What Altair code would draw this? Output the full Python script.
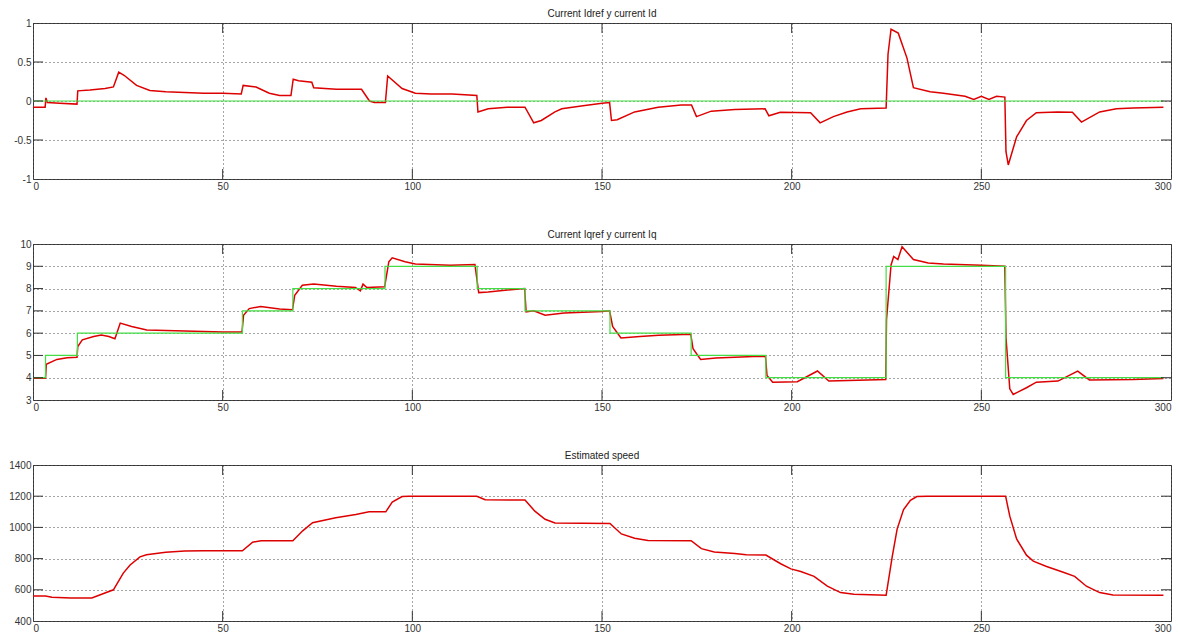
import altair as alt
import pandas as pd

# ---------------- data ----------------
# Panel 1: Id (red) and Idref (green)
id_t = [0, 3.2, 3.4, 3.8, 7, 11.6, 11.8, 15, 19, 21.2, 22.6, 24, 27.3, 30.8, 35, 40, 45, 50,
        54.9, 55.4, 58.8, 62.3, 65, 68, 68.6, 70, 73.5, 74, 80, 86.6, 88.7, 90, 92.9, 93.5,
        97.3, 100.8, 105, 110.5, 117, 117.3, 120, 125, 129.7, 132, 134, 137.6, 139.4, 145,
        150, 152, 152.5, 154, 158.6, 164.8, 170.9, 173.6, 174.9, 178.8, 185, 193, 194, 197,
        205, 207.5, 211, 214.6, 218.2, 224.9, 225.4, 226.2, 228.1, 230.4, 232.1, 236.5, 240,
        245.7, 248, 250, 252, 254, 256.2, 256.5, 257.1, 259.3, 261.9, 264.5, 270, 274, 276.4,
        281.2, 285.6, 290, 298]
id_v = [-0.08, -0.08, 0.04, -0.02, -0.03, -0.04, 0.13, 0.14, 0.16, 0.18, 0.37, 0.33, 0.2, 0.135,
        0.12, 0.11, 0.1, 0.1, 0.09, 0.2, 0.18, 0.1, 0.07, 0.07, 0.28, 0.26, 0.24, 0.17, 0.15,
        0.15, 0.0, -0.02, -0.02, 0.32, 0.16, 0.1, 0.09, 0.09, 0.07, -0.14, -0.1, -0.08, -0.08,
        -0.28, -0.25, -0.14, -0.1, -0.06, -0.03, -0.02, -0.25, -0.24, -0.14, -0.08, -0.05,
        -0.05, -0.2, -0.13, -0.11, -0.1, -0.19, -0.145, -0.15, -0.28, -0.2, -0.14, -0.1, -0.09,
        0.6, 0.92, 0.87, 0.55, 0.17, 0.12, 0.1, 0.06, 0.02, 0.06, 0.02, 0.06, 0.05, -0.65,
        -0.82, -0.46, -0.25, -0.15, -0.14, -0.145, -0.27, -0.14, -0.1, -0.09, -0.08]
idref_t = [0, 298]
idref_v = [0, 0]

# Panel 2: Iq (red) and Iqref (green, stepwise)
iq_t = [0, 3.3, 3.5, 6.3, 9, 11.6, 11.8, 13, 16, 18, 20, 21.6, 23, 26, 30, 40, 50, 55.1, 55.5,
        57, 60, 65, 68.4, 69, 71, 74, 80, 85, 86.3, 87, 88, 92.7, 93.8, 94.7, 98.1, 100.8, 110,
        116.5, 117.5, 120, 126, 129.6, 130, 132, 135, 140, 150, 152, 152.8, 155, 160, 165,
        173.4, 174, 176, 180, 190, 193.1, 193.5, 195, 201.5, 206.8, 209.8, 215, 224.8, 225,
        226.2, 226.9, 228, 229.1, 232.1, 236, 240, 250, 256.2, 256.5, 257.5, 258.4, 261.9,
        264.5, 270.2, 275.4, 278.5, 290, 298]
iq_v = [3.98, 3.98, 4.6, 4.82, 4.9, 4.92, 5.4, 5.7, 5.85, 5.92, 5.85, 5.75, 6.45, 6.3, 6.14,
        6.1, 6.05, 6.05, 6.8, 7.1, 7.2, 7.08, 7.05, 7.7, 8.15, 8.2, 8.1, 8.05, 7.9, 8.2, 8.05,
        8.08, 9.2, 9.38, 9.2, 9.1, 9.05, 9.08, 7.82, 7.85, 7.95, 8.0, 6.95, 7.0, 6.8, 6.9,
        6.97, 7.0, 6.3, 5.78, 5.85, 5.9, 5.95, 5.3, 4.82, 4.88, 4.95, 4.95, 4.1, 3.8, 3.82,
        4.3, 3.85, 3.87, 3.92, 6.6, 9.06, 9.44, 9.3, 9.88, 9.3, 9.15, 9.1, 9.05, 9.0, 5.8,
        3.5, 3.25, 3.55, 3.8, 3.85, 4.3, 3.9, 3.92, 3.97]
iqref_t = [0, 3.3, 11.7, 55.2, 68.5, 92.8, 117.1, 129.7, 152.1, 173.5, 193.2, 224.9, 256.4, 298]
iqref_v = [4, 5, 6, 7, 8, 9, 8, 7, 6, 5, 4, 9, 4, 4]

# Panel 3: estimated speed (red)
sp_t = [0, 3.3, 5, 10, 15.5, 18.1, 21.2, 23.8, 25.6, 28.2, 29.9, 35, 40, 45, 55.2, 57.9, 60.1,
        68.5, 71.1, 73.7, 79.8, 85.1, 88.6, 93, 94.7, 97.3, 99.1, 117, 119.2, 129.7, 132.3,
        135, 137.6, 152.1, 155.1, 158.6, 162.1, 173.5, 176.2, 179.6, 185, 188, 193.2, 197.1,
        199.8, 202.4, 205.9, 209.4, 212.9, 216.4, 224.9, 226.5, 227.8, 229.5, 231.3, 233,
        235.7, 256.4, 257.5, 259.3, 261.9, 263.7, 267.2, 271.6, 274.6, 277.7, 281.2, 284.7, 298]
sp_v = [560, 560, 552, 548, 548, 571, 600, 707, 759, 811, 825, 840, 848, 850, 850, 905, 915,
        915, 978, 1030, 1062, 1083, 1100, 1100, 1162, 1198, 1200, 1200, 1177, 1175, 1104,
        1052, 1028, 1025, 958, 930, 916, 915, 864, 843, 832, 825, 823, 767, 734, 717, 686,
        623, 582, 571, 565, 811, 989, 1114, 1173, 1198, 1200, 1200, 1072, 926, 822, 784, 749,
        713, 686, 623, 582, 567, 565]

titles = ["Current Idref y current Id", "Current Iqref y current Iq", "Estimated speed"]
x_ticks = [0, 50, 100, 150, 200, 250, 300]
y_ticks_1 = [-1, -0.5, 0, 0.5, 1]
y_ticks_2 = [3, 4, 5, 6, 7, 8, 9, 10]
y_ticks_3 = [400, 600, 800, 1000, 1200, 1400]

# ---------------- styling ----------------
W, H = 1138, 156
RED = "#dd0000"
GREEN = "#44dd44"
AXC = "#333333"
FONT = "Liberation Sans"


def panel(title, red_t, red_v, green_t, green_v, ydom, yticks, step=False):
    xs = alt.Scale(domain=[0, 300], nice=False, zero=False)
    ys = alt.Scale(domain=ydom, nice=False, zero=False)
    xax = alt.Axis(values=x_ticks, tickCount=len(x_ticks), title=None, grid=True,
                   labelFlush=True, labelOverlap=False, labelExpr="toString(datum.value)")
    yax = alt.Axis(values=yticks, tickCount=len(yticks), title=None, grid=True,
                   labelFlush=False, labelOverlap=False, labelExpr="toString(datum.value)")
    red_df = pd.DataFrame({"t": red_t, "v": red_v})
    base = alt.Chart(red_df).mark_line(color=RED, strokeWidth=1.5, clip=True).encode(
        x=alt.X("t:Q", scale=xs, axis=xax),
        y=alt.Y("v:Q", scale=ys, axis=yax),
    )
    layers = [base]
    if green_t is not None:
        g_df = pd.DataFrame({"t": green_t, "v": green_v})
        kw = {"interpolate": "step-after"} if step else {}
        layers.append(
            alt.Chart(g_df).mark_line(color=GREEN, strokeWidth=1.2, clip=True, **kw).encode(
                x=alt.X("t:Q", scale=xs), y=alt.Y("v:Q", scale=ys)
            )
        )
    # inward MATLAB-style ticks
    xt = pd.DataFrame({"t": x_ticks[1:-1]})
    yt = pd.DataFrame({"v": yticks[1:-1]})
    tick = dict(color=AXC, strokeWidth=1)
    layers += [
        alt.Chart(xt).mark_rule(**tick).encode(x=alt.X("t:Q", scale=xs), y=alt.value(0), y2=alt.value(10)),
        alt.Chart(xt).mark_rule(**tick).encode(x=alt.X("t:Q", scale=xs), y=alt.value(H - 10), y2=alt.value(H)),
        alt.Chart(yt).mark_rule(**tick).encode(y=alt.Y("v:Q", scale=ys), x=alt.value(0), x2=alt.value(10)),
        alt.Chart(yt).mark_rule(**tick).encode(y=alt.Y("v:Q", scale=ys), x=alt.value(W - 10), x2=alt.value(W)),
    ]
    return alt.layer(*layers).properties(
        width=W, height=H,
        title=alt.TitleParams(title, fontSize=10, fontWeight="normal", font=FONT,
                              color="#222222", offset=-1, anchor="middle"),
    )


p1 = panel(titles[0], id_t, id_v, idref_t, idref_v, [-1, 1], y_ticks_1)
p2 = panel(titles[1], iq_t, iq_v, iqref_t, iqref_v, [3, 10], y_ticks_2, step=True)
p3 = panel(titles[2], sp_t, sp_v, None, None, [400, 1400], y_ticks_3)

chart = alt.vconcat(p1, p2, p3, spacing=37).properties(
    padding={"left": 0, "top": 0, "right": 0, "bottom": 0},
    background="white",
).configure_view(
    stroke="#444444", strokeWidth=1
).configure_axis(
    domain=False, ticks=False, labelFont=FONT, labelFontSize=10, labelColor=AXC,
    labelPadding=2, gridColor="#222222", gridDash=[1, 3], gridOpacity=0.8, gridWidth=1
)

chart.save("out.html", embed_options={"renderer": "svg", "actions": False})
